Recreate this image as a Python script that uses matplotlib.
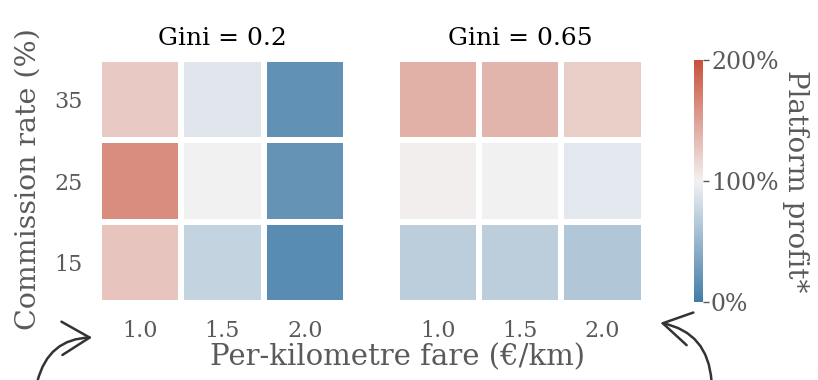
import numpy as np
import matplotlib.pyplot as plt
import seaborn as sns
from matplotlib.patches import FancyArrowPatch

# 資料
fares = ["1.0", "1.5", "2.0"]
commissions = ["15", "25", "35"]          # 由下而上
titles = ["Gini = 0.2", "Gini = 0.65"]
# 平台利潤 (%)，列 = commission 15/25/35，欄 = fare 1.0/1.5/2.0
profit_gini_02 = [[128, 74, 14],
                  [162, 100, 20],
                  [125, 90, 18]]
profit_gini_065 = [[70, 70, 64],
                   [102, 100, 92],
                   [140, 138, 122]]
cbar_ticks = [0, 100, 200]
cbar_labels = ["0%", "100%", "200%"]

plt.rcParams['font.family'] = ['DejaVu Serif']
grey = '#5a5a5a'

cmap = sns.diverging_palette(240, 18, s=75, l=50, center='light', as_cmap=True)

fig = plt.figure(figsize=(8.18, 3.8), dpi=100)
ax1 = fig.add_axes([0.121, 0.203, 0.302, 0.641])
ax2 = fig.add_axes([0.485, 0.203, 0.302, 0.641])
cax = fig.add_axes([0.848, 0.205, 0.011, 0.637])

for ax, data, title in zip([ax1, ax2], [profit_gini_02, profit_gini_065], titles):
    mesh = ax.pcolormesh(np.array(data), cmap=cmap, vmin=0, vmax=200,
                         edgecolors='white', linewidth=3)
    ax.set_xticks(np.arange(len(fares)) + 0.5)
    ax.set_xticklabels(fares)
    ax.set_title(title, fontsize=18, color='black', pad=10)
    ax.tick_params(length=0, labelsize=16, labelcolor=grey, pad=12)
    for s in ax.spines.values():
        s.set_visible(False)

ax1.set_yticks(np.arange(len(commissions)) + 0.5)
ax1.set_yticklabels(commissions)
ax2.set_yticks([])

cb = fig.colorbar(mesh, cax=cax, ticks=cbar_ticks)
cb.ax.set_yticklabels(cbar_labels)
cb.outline.set_visible(False)
cb.ax.tick_params(length=4, width=1, color=grey, labelsize=17, labelcolor=grey, pad=2)
cb.set_label("Platform profit*", rotation=270, fontsize=20, color=grey, labelpad=22)

fig.text(0.034, 0.53, "Commission rate (%)", rotation=90, ha='center', va='center',
         fontsize=20.5, color=grey)
fig.text(0.486, 0.06, "Per-kilometre fare (€/km)", ha='center', va='center',
         fontsize=21, color=grey)

# 手繪風格的箭頭
arrow_kw = dict(transform=fig.transFigure, arrowstyle='->,head_length=1.0,head_width=0.6',
                mutation_scale=20, color='#333333', lw=1.8)
fig.add_artist(FancyArrowPatch((0.045, -0.01), (0.116, 0.112),
                               connectionstyle='arc3,rad=-0.4', **arrow_kw))
fig.add_artist(FancyArrowPatch((0.87, -0.01), (0.804, 0.152),
                               connectionstyle='arc3,rad=0.4', **arrow_kw))

plt.savefig("out.png", dpi=100)
